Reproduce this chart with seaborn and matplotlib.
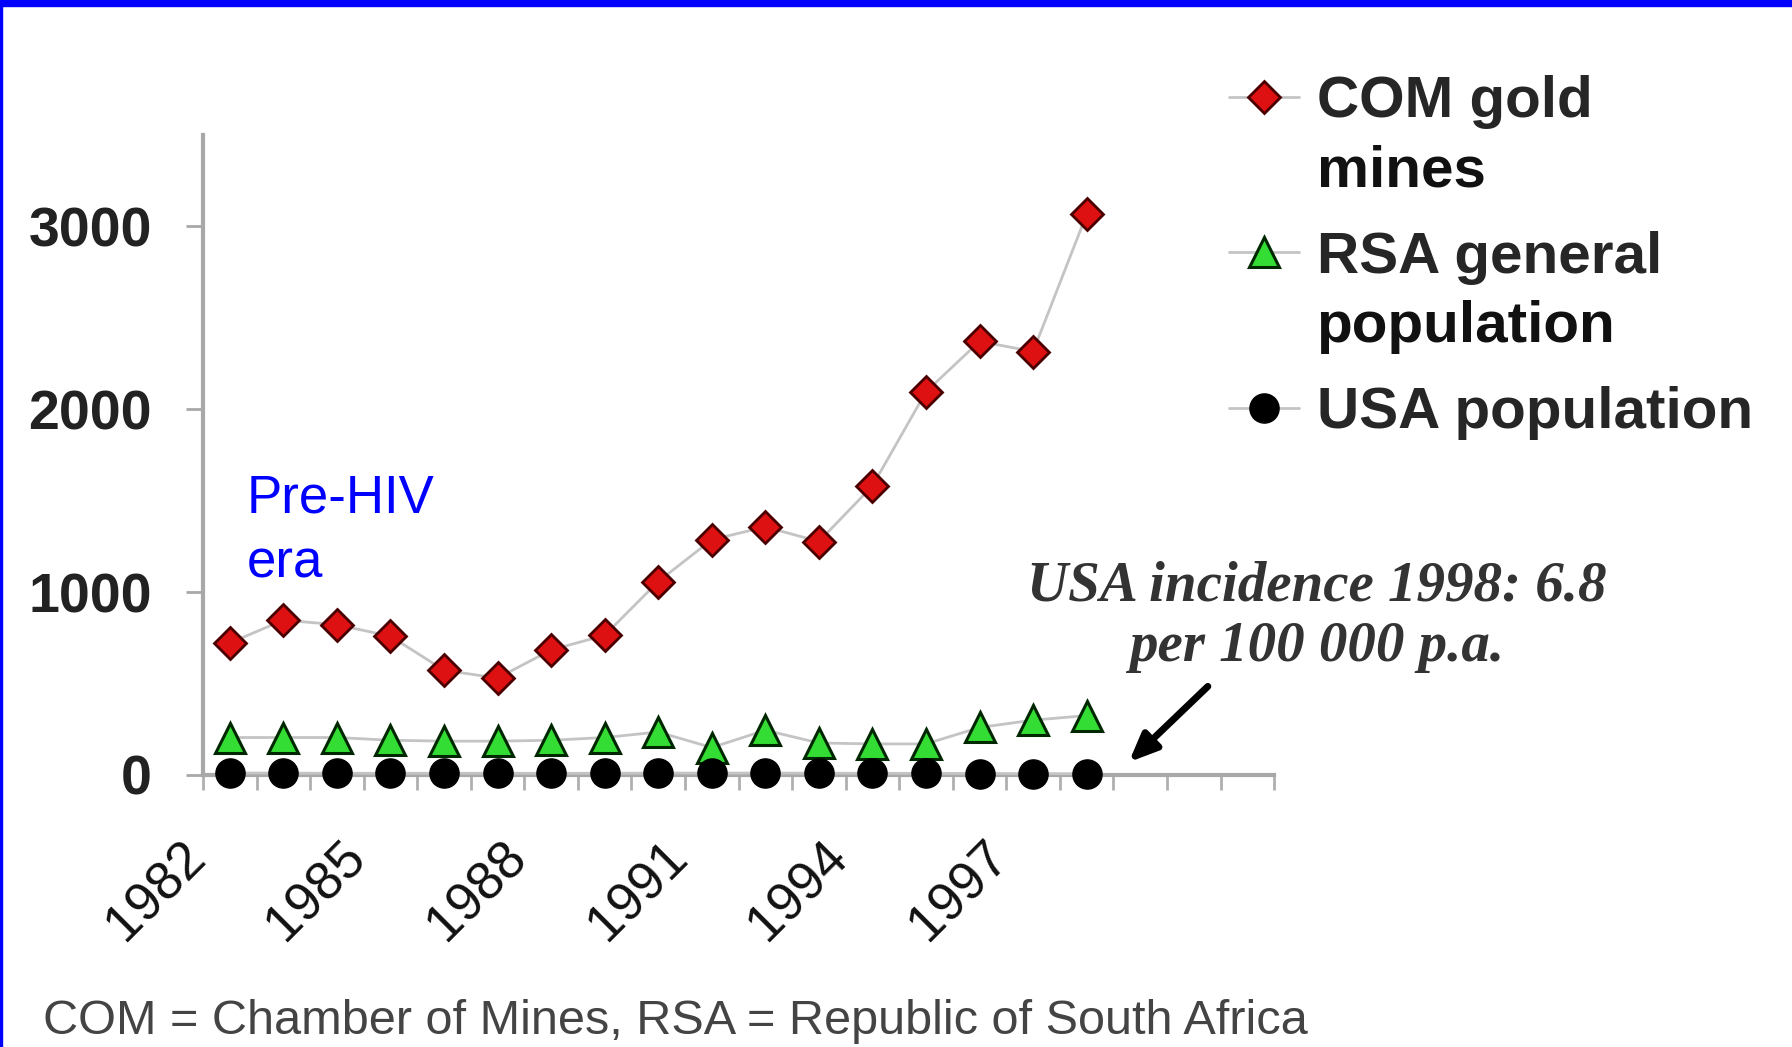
import numpy as np
import pandas as pd
import seaborn as sns
import matplotlib.pyplot as plt
from matplotlib.transforms import ScaledTranslation
from matplotlib.patches import Rectangle

# TB incidence per 100 000
years = list(range(1982, 1999))
com_gold = [722, 847, 822, 759, 573, 530, 684, 764, 1058, 1287, 1357, 1277,
            1581, 2096, 2372, 2316, 3067]
rsa_general = [205, 205, 205, 190, 185, 185, 190, 205, 235, 150, 245, 175,
               170, 170, 260, 300, 325]
usa_pop = [11.0, 10.2, 9.4, 9.3, 9.4, 9.3, 9.1, 9.5, 10.3, 10.4, 10.5, 9.8,
           9.4, 8.7, 8.0, 7.4, 6.8]

series_names = ['COM gold mines', 'RSA general population', 'USA population']
legend_first = ['COM gold', 'RSA general', 'USA population']
legend_second = ['mines', 'population', '']
tick_years = [1982, 1985, 1988, 1991, 1994, 1997]
y_ticks = [0, 1000, 2000, 3000]

df = pd.DataFrame({
    'year': years * 3,
    'rate': com_gold + rsa_general + usa_pop,
    'series': [series_names[0]] * 17 + [series_names[1]] * 17 + [series_names[2]] * 17,
})

sns.set_theme(style='white')
plt.rcParams['font.family'] = ['Liberation Sans', 'DejaVu Sans']

fig = plt.figure(figsize=(17.92, 10.47), dpi=100)
ax = fig.add_axes([0.1133, 0.2598, 0.5977, 0.6112])

styles = {
    'COM gold mines': dict(marker='D', markersize=16, markerfacecolor='#dd1111',
                           markeredgecolor='#4a0000', markeredgewidth=2),
    'RSA general population': dict(marker='^', markersize=22, markerfacecolor='#33dd33',
                                   markeredgecolor='#002800', markeredgewidth=2.2),
    'USA population': dict(marker='o', markersize=21, markerfacecolor='black',
                           markeredgecolor='black', markeredgewidth=1),
}

handles = []
for i, name in enumerate(series_names):
    sns.lineplot(data=df[df['series'] == name], x='year', y='rate', ax=ax,
                 color='#c4c4c4', lw=2, errorbar=None, clip_on=False,
                 zorder=3 + i, **styles[name])
    handles.append(ax.lines[-1])

ax.set_xlim(1981.5, 2001.5)
ax.set_ylim(0, 3500)

# spines
sns.despine(ax=ax)
for s in ['left', 'bottom']:
    ax.spines[s].set_color('#a8a8a8')
    ax.spines[s].set_linewidth(3)

ax.set_yticks(y_ticks)
ax.set_yticklabels([str(v) for v in y_ticks], fontsize=40, fontweight='bold', color='#222222')
ax.tick_params(axis='y', left=True, length=12, width=2, color='#a8a8a8', pad=25)

ax.set_xticks(tick_years)
ax.set_xticklabels([str(v) for v in tick_years], fontsize=38, color='#111111',
                   rotation=45, ha='right', va='top', rotation_mode='anchor')
ax.set_xticks(np.arange(1981.5, 2002, 1), minor=True)
ax.tick_params(axis='x', which='major', length=0, pad=41)
ax.tick_params(axis='x', which='minor', bottom=True, length=11, width=2, color='#b0b0b0')
shift = ScaledTranslation(-0.5, 0, fig.dpi_scale_trans)
for lbl in ax.get_xticklabels():
    lbl.set_transform(lbl.get_transform() + shift)

ax.set_xlabel('')
ax.set_ylabel('')

# annotations
ax.text(1982.32, 1335, 'Pre-HIV\nera', color='#0000ff', fontsize=38,
        ha='left', va='center', linespacing=1.4)
ax.text(2002.3, 865, 'USA incidence 1998: 6.8\nper 100 000 p.a.',
        family=['Liberation Serif', 'DejaVu Serif'], style='italic', weight='bold',
        fontsize=41, color='#333333', ha='center', va='center', linespacing=1.2,
        clip_on=False)
ax.annotate('', xy=(1998.75, 60), xytext=(2000.3, 495),
            arrowprops=dict(arrowstyle='-|>,head_length=1.4,head_width=0.6',
                            color='black', lw=5), annotation_clip=False)

leg = ax.legend(handles, legend_first, loc='upper left',
                bbox_to_anchor=(1229 / 1792, 0.928), bbox_transform=fig.transFigure,
                frameon=False, prop={'weight': 'bold', 'size': 42},
                handlelength=1.2, handletextpad=0.3, labelspacing=1.74,
                borderpad=0, borderaxespad=0)
fig.canvas.draw()
for t, extra in zip(leg.get_texts(), legend_second):
    if extra:
        ax.annotate(extra, xy=(0, 0.5), xycoords=t, xytext=(0, -50),
                    textcoords='offset points', ha='left', va='center',
                    fontsize=42, fontweight='bold', color='#111111',
                    annotation_clip=False)

fig.text(43 / 1792, 1 - 1021 / 1047, 'COM = Chamber of Mines, RSA = Republic of South Africa',
         fontsize=35, color='#444444', ha='left', va='center')

# blue frame edges
fig.add_artist(Rectangle((0, 1 - 6 / 1047), 1, 6 / 1047, transform=fig.transFigure,
                         color='#0000ff', zorder=10))
fig.add_artist(Rectangle((0, 0), 2 / 1792, 1, transform=fig.transFigure,
                         color='#0000ff', zorder=10))

fig.savefig('out.png', dpi=100)
